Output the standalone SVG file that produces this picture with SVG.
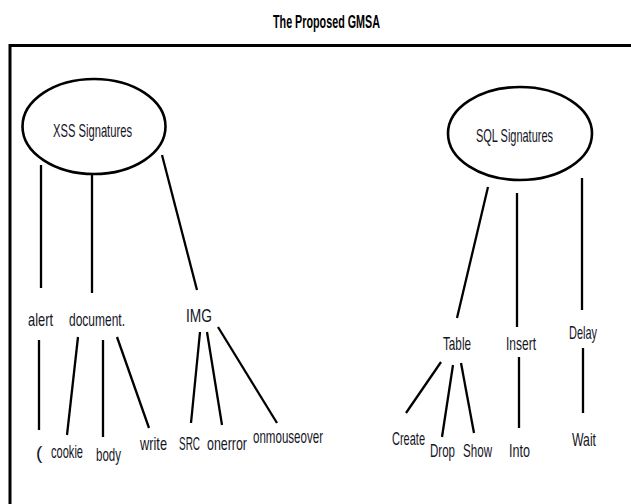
<svg xmlns="http://www.w3.org/2000/svg" width="631" height="504" viewBox="0 0 631 504">
<style>
text{font-family:"Liberation Sans Narrow","Liberation Sans",Arial,sans-serif;font-size:19px;fill:#15151f}
.title{font-weight:bold;font-size:19px;fill:#000}
.ell{fill:#fff;stroke:#000;stroke-width:2.6}
.frame{stroke:#000;stroke-width:3;fill:none}
.con line{stroke:#000;stroke-width:2.3;stroke-linecap:butt}
</style>
<rect width="631" height="504" fill="#fff"/>
<text class="title" x="273" y="28" textLength="107" lengthAdjust="spacingAndGlyphs">The Proposed GMSA</text>
<path class="frame" d="M10 504 V45.5 H631"/>
<g id="connectors" class="con">
<line x1="41" y1="165" x2="41" y2="288"/>
<line x1="92" y1="175" x2="92" y2="293"/>
<line x1="162" y1="155" x2="197" y2="290"/>
<line x1="39" y1="340" x2="39" y2="430"/>
<line x1="78" y1="337" x2="67" y2="435"/>
<line x1="103" y1="340" x2="103" y2="437"/>
<line x1="117" y1="337" x2="149" y2="428"/>
<line x1="200" y1="332" x2="191" y2="423"/>
<line x1="207" y1="332" x2="222" y2="425"/>
<line x1="218" y1="327" x2="277" y2="423"/>
<line x1="488" y1="187" x2="457" y2="318"/>
<line x1="517" y1="193" x2="517" y2="327"/>
<line x1="582" y1="178" x2="582" y2="310"/>
<line x1="441" y1="362" x2="406" y2="413"/>
<line x1="453" y1="365" x2="442" y2="437"/>
<line x1="461" y1="363" x2="474" y2="433"/>
<line x1="519" y1="357" x2="519" y2="428"/>
<line x1="583" y1="348" x2="583" y2="413"/>
</g>
<g id="xss"><ellipse class="ell" cx="94" cy="126.5" rx="71.5" ry="47.5"/><text x="53" y="137" textLength="79" lengthAdjust="spacingAndGlyphs">XSS Signatures</text></g>
<g id="sql"><ellipse class="ell" cx="520" cy="133.5" rx="72" ry="46.5"/><text x="476" y="142" textLength="77" lengthAdjust="spacingAndGlyphs">SQL Signatures</text></g>
<g id="alert"><text x="28" y="326" textLength="25" lengthAdjust="spacingAndGlyphs">alert</text></g>
<g id="document"><text x="69" y="326" textLength="56" lengthAdjust="spacingAndGlyphs">document.</text></g>
<g id="img"><text x="186" y="322" textLength="26" lengthAdjust="spacingAndGlyphs">IMG</text></g>
<g id="paren"><text x="36" y="459">(</text></g>
<g id="cookie"><text x="51" y="458" textLength="32" lengthAdjust="spacingAndGlyphs">cookie</text></g>
<g id="body"><text x="96" y="461" textLength="25" lengthAdjust="spacingAndGlyphs">body</text></g>
<g id="write"><text x="140" y="450" textLength="27" lengthAdjust="spacingAndGlyphs">write</text></g>
<g id="src"><text x="179" y="450" textLength="21" lengthAdjust="spacingAndGlyphs">SRC</text></g>
<g id="onerror"><text x="207" y="450" textLength="40" lengthAdjust="spacingAndGlyphs">onerror</text></g>
<g id="onmouseover"><text x="253" y="443" textLength="70" lengthAdjust="spacingAndGlyphs">onmouseover</text></g>
<g id="table"><text x="443" y="350" textLength="28" lengthAdjust="spacingAndGlyphs">Table</text></g>
<g id="insert"><text x="506" y="350" textLength="30" lengthAdjust="spacingAndGlyphs">Insert</text></g>
<g id="delay"><text x="569" y="339" textLength="28" lengthAdjust="spacingAndGlyphs">Delay</text></g>
<g id="create"><text x="392" y="445" textLength="33" lengthAdjust="spacingAndGlyphs">Create</text></g>
<g id="drop"><text x="430" y="457" textLength="25" lengthAdjust="spacingAndGlyphs">Drop</text></g>
<g id="show"><text x="463" y="457" textLength="29" lengthAdjust="spacingAndGlyphs">Show</text></g>
<g id="into"><text x="509" y="457" textLength="21" lengthAdjust="spacingAndGlyphs">Into</text></g>
<g id="wait"><text x="572" y="446" textLength="24" lengthAdjust="spacingAndGlyphs">Wait</text></g>
</svg>
